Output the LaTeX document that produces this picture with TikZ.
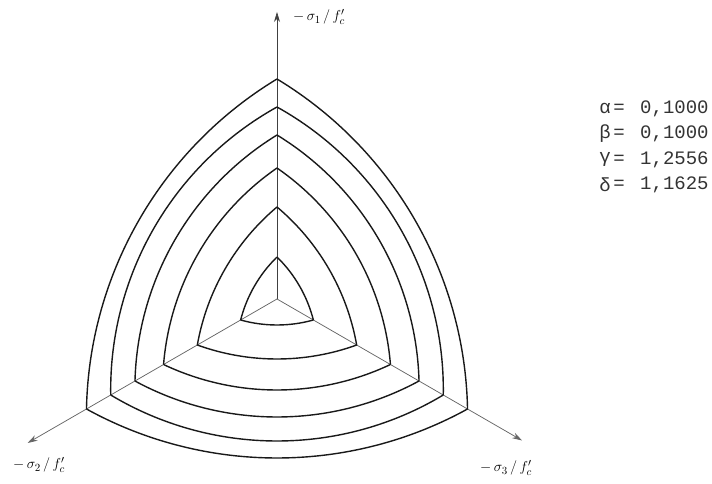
\documentclass[tikz,border=0pt]{standalone}
\usepackage{fontspec}
\newfontfamily\monof{Liberation Mono}
\usetikzlibrary{arrows.meta}
\begin{document}
\begin{tikzpicture}[x=10pt,y=10pt,
  contour/.style={line width=1.4pt, black!90},
  axisline/.style={line width=0.75pt, black!60},
  axisarrow/.style={axisline, -{Stealth[length=10pt,width=6pt]}},
  lbl/.style={font=\fontsize{15}{17}\selectfont, anchor=west, inner sep=0pt},
  parf/.style={font=\monof\fontsize{19}{21}\selectfont, inner sep=0pt, text=black!80}]
\useasboundingbox (-27.7,-18.5) rectangle (43.5,29.9);
\coordinate (O) at (0,0);
\coordinate (A1) at (90:28.7);
\coordinate (A2) at (210:28.8);
\coordinate (A3) at (330:28.3);
\draw[axisarrow, black!75] (O) -- (A1);
\draw[axisarrow] (O) -- (A2);
\draw[axisarrow] (O) -- (A3);
\foreach \R/\m in {4.2/2.6,9.2/6.0,13.1/9.1,16.4/11.8,19.2/14.2,22.0/15.9}{
  \pgfmathsetmacro\cc{(\R*\R-\m*\m)/(2*\m-\R)}
  \pgfmathsetmacro\rr{\cc+\m}
  \pgfmathsetmacro\sa{atan2(-0.5*\R-\cc,-0.8660254*\R)}
  \pgfmathsetmacro\ea{atan2(-0.5*\R-\cc,0.8660254*\R)}
  \foreach \rot in {0,120,240}{
    \begin{scope}[rotate=\rot]
      \draw[contour] ({-0.8660254*\R},{-0.5*\R}) arc[start angle=\sa,end angle=\ea,radius=\rr];
    \end{scope}
  }
}
\node[lbl] (L1) at (1.6,28.2) {$-\,\sigma_1\,/\,f'_c$};
\node[lbl] (L2) at (-26.4,-16.6) {$-\,\sigma_2\,/\,f'_c$};
\node[lbl] (L3) at (20.3,-16.9) {$-\,\sigma_3\,/\,f'_c$};
\node[parf] (ga) at (32.8,19.05) {α};
\node[parf] (gb) at (32.8,16.5) {β};
\node[parf] (gc) at (32.8,13.95) {γ};
\node[parf] (gd) at (32.8,11.4) {δ};
\node[parf] (ea) at (34.2,19.05) {=};
\node[parf] (eb) at (34.2,16.5) {=};
\node[parf] (ec) at (34.2,13.95) {=};
\node[parf] (ed) at (34.2,11.4) {=};
\node[parf,anchor=west] (va) at (36.3,19.05) {0,1000};
\node[parf,anchor=west] (vb) at (36.3,16.5) {0,1000};
\node[parf,anchor=west] (vc) at (36.3,13.95) {1,2556};
\node[parf,anchor=west] (vd) at (36.3,11.4) {1,1625};
\end{tikzpicture}
\end{document}
